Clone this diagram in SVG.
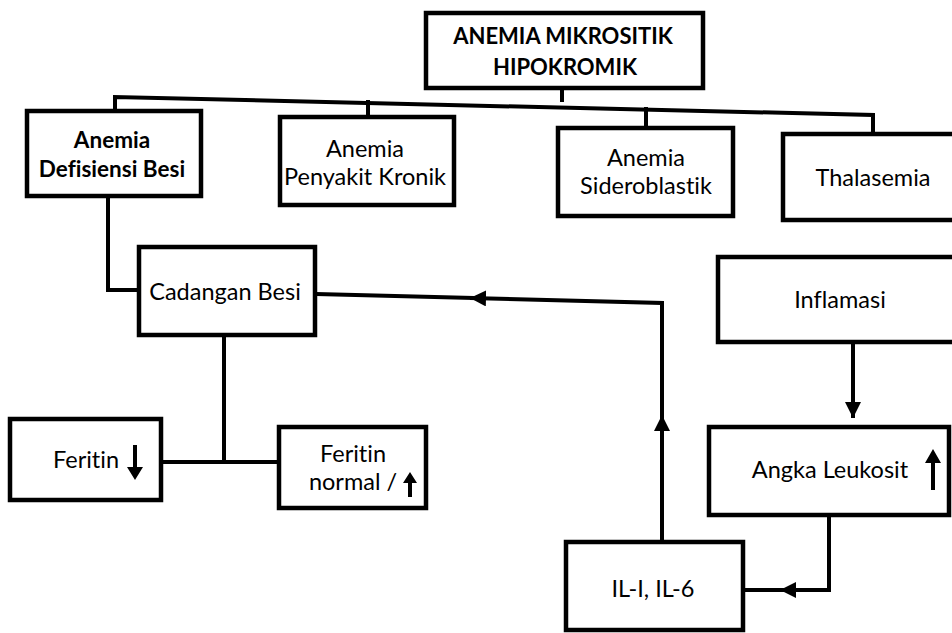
<svg xmlns="http://www.w3.org/2000/svg" width="952" height="633" viewBox="0 0 952 633">
<style>
.box{fill:#fff;stroke:#000;stroke-width:4.5}
.ln{fill:none;stroke:#000;stroke-width:4}
.t{font-family:Lato,"Open Sans","Liberation Sans",sans-serif;font-size:23.5px;fill:#000;text-anchor:middle;font-variant-ligatures:none;font-feature-settings:"liga" 0,"clig" 0}
.b{font-weight:bold;font-size:22.5px}
.ti{font-weight:bold;font-size:22px}
.ar{fill:#000}
</style>
<defs>
<marker id="tri" viewBox="0 0 10 10" refX="10" refY="5" markerWidth="4" markerHeight="4" orient="auto" markerUnits="strokeWidth">
<path d="M0,0 L10,5 L0,10 Z" fill="#000"/>
</marker>
</defs>
<rect width="952" height="633" fill="#fff"/>
<g id="connectors">
<path class="ln" d="M562,88 V102"/>
<path class="ln" d="M115,112 V97 L873,115 V134"/>
<path class="ln" d="M368,117 V100"/>
<path class="ln" d="M646,127 V107"/>
<path class="ln" d="M108,196 V290 H139"/>
<path class="ln" d="M224,335 V462"/>
<path class="ln" d="M161,462 H279"/>
<path class="ln" d="M662,543 V415" marker-end="url(#tri)"/>
<path class="ln" d="M662,420 V303 L470,298" marker-end="url(#tri)"/>
<path class="ln" d="M474,298 L316,294"/>
<path class="ln" d="M853,341 V418" marker-end="url(#tri)"/>
<path class="ln" d="M829,515 V590 H780" marker-end="url(#tri)"/>
<path class="ln" d="M785,590 H743"/>
</g>
<g id="n-top">
<rect class="box" x="426" y="13" width="277" height="75"/>
<text class="t ti" x="563" y="44">ANEMIA MIKROSITIK</text>
<text class="t ti" x="565" y="75">HIPOKROMIK</text>
</g>
<g id="n-adb">
<rect class="box" x="27" y="111" width="174" height="85"/>
<text class="t b" x="112" y="148">Anemia</text>
<text class="t b" x="112" y="177">Defisiensi Besi</text>
</g>
<g id="n-apk">
<rect class="box" x="280" y="117" width="174" height="88"/>
<text class="t" x="365" y="157">Anemia</text>
<text class="t" x="365" y="185">Penyakit Kronik</text>
</g>
<g id="n-as">
<rect class="box" x="558" y="128" width="175" height="88"/>
<text class="t" x="646" y="166">Anemia</text>
<text class="t" x="646" y="194">Sideroblastik</text>
</g>
<g id="n-thal">
<rect class="box" x="783" y="134" width="175" height="86"/>
<text class="t" x="873" y="186">Thalasemia</text>
</g>
<g id="n-cad">
<rect class="box" x="139" y="247" width="176" height="88"/>
<text class="t" x="225" y="300">Cadangan Besi</text>
</g>
<g id="n-fer">
<rect class="box" x="10" y="419" width="151" height="81"/>
<text class="t" x="86" y="468">Feritin</text>
<path class="ar" d="M133,445 h4 v22 h6 l-8,13 l-8,-13 h6 z"/>
</g>
<g id="n-fern">
<rect class="box" x="279" y="427" width="147" height="81"/>
<text class="t" x="353" y="462">Feritin</text>
<text class="t" x="353" y="490">normal /</text>
<path class="ar" d="M408,497 h4 v-14 h5 l-7,-11 l-7,11 h5 z"/>
</g>
<g id="n-infl">
<rect class="box" x="718" y="257" width="240" height="85"/>
<text class="t" x="840" y="308">Inflamasi</text>
</g>
<g id="n-leuk">
<rect class="box" x="709" y="427" width="240" height="88"/>
<text class="t" x="830" y="478">Angka Leukosit</text>
<path class="ar" d="M931,490 h4 v-27 h6 l-8,-14 l-8,14 h6 z"/>
</g>
<g id="n-il">
<rect class="box" x="566" y="542" width="177" height="88"/>
<text class="t" x="653" y="597">IL-I, IL-6</text>
</g>
</svg>
